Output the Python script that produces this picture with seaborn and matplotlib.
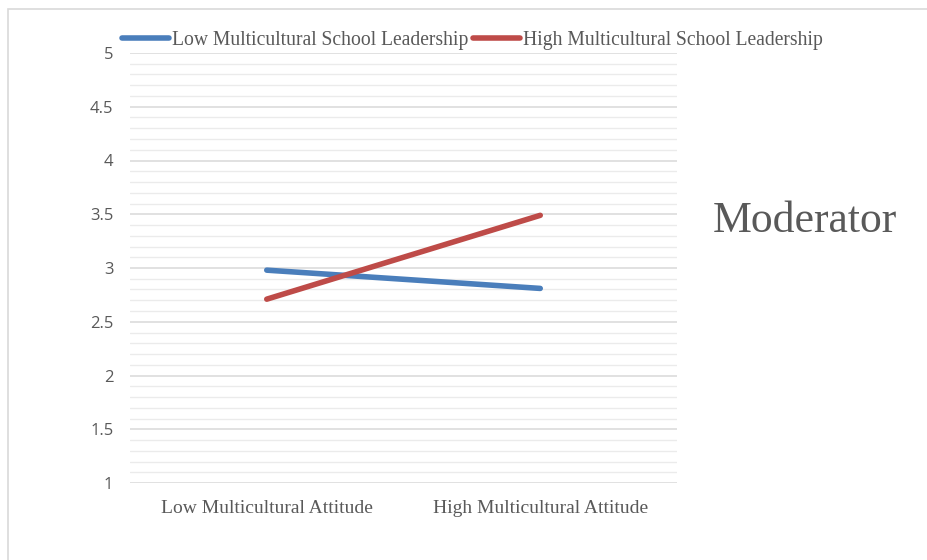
import matplotlib
matplotlib.use("Agg")
import matplotlib.pyplot as plt
import seaborn as sns
import pandas as pd
from matplotlib.patches import Rectangle
from matplotlib.ticker import MultipleLocator

categories = ["Low Multicultural Attitude", "High Multicultural Attitude"]
series_names = ["Low Multicultural School Leadership", "High Multicultural School Leadership"]
low_leadership = [2.98, 2.81]
high_leadership = [2.71, 3.49]
y_ticks = [1, 1.5, 2, 2.5, 3, 3.5, 4, 4.5, 5]
y_tick_labels = ["1", "1.5", "2", "2.5", "3", "3.5", "4", "4.5", "5"]
side_label = "Moderator"

rows = []
for name, vals in zip(series_names, [low_leadership, high_leadership]):
    for c, v in zip(categories, vals):
        rows.append({"attitude": c, "value": v, "leadership": name})
df = pd.DataFrame(rows)

sns.set_theme(style="white")
plt.rcParams["font.family"] = ["Liberation Serif", "DejaVu Serif"]

fig = plt.figure(figsize=(9.28, 5.6), dpi=100)
ax = fig.add_axes([130/928, 1-483/560, (677-130)/928, (483-53)/560])

palette = {series_names[0]: "#4A7EBB", series_names[1]: "#BE4B48"}
sns.lineplot(data=df, x="attitude", y="value", hue="leadership", palette=palette,
             linewidth=4.0, ax=ax, legend=True, solid_capstyle="round")

ax.set_xlim(-0.5, 1.5)
ax.set_ylim(1, 5)
ax.set_yticks(y_ticks)
ax.set_yticklabels(y_tick_labels, family="Open Sans", fontsize=12, color="#595959")
ax.yaxis.set_minor_locator(MultipleLocator(0.1))
ax.grid(which="major", axis="y", color="#d9d9d9", linewidth=1.1)
ax.grid(which="minor", axis="y", color="#ebebeb", linewidth=1.0)
ax.set_axisbelow(True)
ax.set_xticks([0, 1])
ax.set_xticklabels(categories, fontsize=14, color="#595959", family="Liberation Serif")
ax.tick_params(axis="both", length=0)
ax.tick_params(axis="x", pad=12)
ax.tick_params(axis="y", pad=12)
for s in ax.spines.values():
    s.set_visible(False)
ax.set_xlabel("")
ax.set_ylabel("")

handles, labels = ax.get_legend_handles_labels()
ax.get_legend().remove()
for h in handles:
    h.set_solid_capstyle("round")
    h.set_linewidth(4.0)
leg = fig.legend(handles, labels, loc="center left", bbox_to_anchor=(122/928, 1-40/560),
                 ncol=2, frameon=False, borderpad=0, borderaxespad=0,
                 handlelength=2.4, handletextpad=0.15, columnspacing=0.25,
                 prop={"family": "Liberation Serif", "size": 14.1})
for t in leg.get_texts():
    t.set_color("#595959")

fig.text(713/928, 1-221/560, side_label, fontsize=31.5, color="#595959",
         family="Liberation Serif", va="center", ha="left")

fig.patches.append(Rectangle((8/928, -0.1), 1.2, 1 - 9/560 + 0.1, transform=fig.transFigure,
                             fill=False, edgecolor="#d9d9d9", linewidth=1.2))

fig.savefig("out.png", dpi=100)
